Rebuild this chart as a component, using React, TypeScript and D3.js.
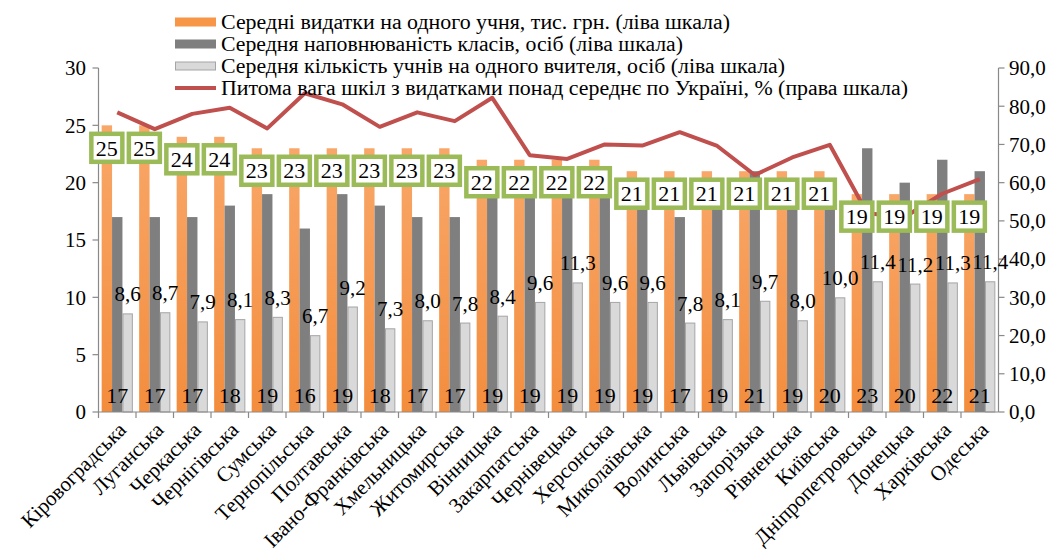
import { useEffect, useRef } from "react";
import * as d3 from "d3";

const categories = [
  "Кіровоградська", "Луганська", "Черкаська", "Чернігівська", "Сумська",
  "Тернопільська", "Полтавська", "Івано-Франківська", "Хмельницька", "Житомирська",
  "Вінницька", "Закарпатська", "Чернівецька", "Херсонська", "Миколаївська",
  "Волинська", "Львівська", "Запорізька", "Рівненська", "Київська",
  "Дніпропетровська", "Донецька", "Харківська", "Одеська"
];
const spending = [25, 25, 24, 24, 23, 23, 23, 23, 23, 23, 22, 22, 22, 22, 21, 21, 21, 21, 21, 21, 19, 19, 19, 19];
const classSize = [17, 17, 17, 18, 19, 16, 19, 18, 17, 17, 19, 19, 19, 19, 19, 17, 19, 21, 19, 20, 23, 20, 22, 21];
const perTeacher = [8.6, 8.7, 7.9, 8.1, 8.3, 6.7, 9.2, 7.3, 8.0, 7.8, 8.4, 9.6, 11.3, 9.6, 9.6, 7.8, 8.1, 9.7, 8.0, 10.0, 11.4, 11.2, 11.3, 11.4];
const shareAbove = [78.4, 74.0, 78.0, 79.6, 74.2, 83.4, 80.5, 74.6, 78.4, 76.1, 82.2, 67.2, 66.2, 70.0, 69.7, 73.2, 69.6, 62.0, 66.6, 69.9, 52.0, 51.0, 57.1, 60.9];
const leftTicks = [0, 5, 10, 15, 20, 25, 30];
const rightTicks = [0, 10, 20, 30, 40, 50, 60, 70, 80, 90];
const legendItems = [
  "Середні видатки на одного учня, тис. грн. (ліва шкала)",
  "Середня наповнюваність класів, осіб (ліва шкала)",
  "Середня кількість учнів на одного вчителя, осіб (ліва шкала)",
  "Питома вага шкіл з видатками понад середнє по Україні, % (права шкала)"
];

const FONT = "Liberation Serif, DejaVu Serif, serif";
const ORANGE = "#F79646";
const DARK = "#7F7F7F";
const LIGHT = "#D9D9D9";
const RED = "#C0504D";
const GREEN = "#9BBB59";
const AXIS = "#898989";
// measured text widths of the legend rows in the reference
const legendWidths = [509, 462, 564, 687];

export default function App() {
  const svgRef = useRef<SVGSVGElement>(null);

  useEffect(() => {
    const svg = d3.select(svgRef.current);
    svg.selectAll("*").remove();

    const left = 98.5;
    const right = 998.5;
    const bottom = 412;
    const top = 68;

    const x = d3.scaleBand().domain(categories).range([left, right]);
    const yL = d3.scaleLinear().domain([0, 30]).range([bottom, top]);
    const yR = d3.scaleLinear().domain([0, 90]).range([bottom, top]);
    const barW = 10.4;
    const cx = (c: string) => (x(c) as number) + x.bandwidth() / 2;

    const defs = svg.append("defs");
    const grad = defs.append("linearGradient").attr("id", "og").attr("x1", 0).attr("y1", 0).attr("x2", 0).attr("y2", 1);
    grad.append("stop").attr("offset", "0%").attr("stop-color", "#F9A769");
    grad.append("stop").attr("offset", "100%").attr("stop-color", "#F38D3D");

    // bars
    svg.append("g").selectAll("rect")
      .data(categories)
      .join("rect")
      .attr("x", c => cx(c) - 1.5 * barW)
      .attr("y", (c, i) => yL(spending[i]))
      .attr("width", barW)
      .attr("height", (c, i) => yL(0) - yL(spending[i]))
      .attr("fill", "url(#og)");

    svg.append("g").selectAll("rect")
      .data(categories)
      .join("rect")
      .attr("x", c => cx(c) - 0.5 * barW)
      .attr("y", (c, i) => yL(classSize[i]))
      .attr("width", barW)
      .attr("height", (c, i) => yL(0) - yL(classSize[i]))
      .attr("fill", DARK);

    svg.append("g").selectAll("rect")
      .data(categories)
      .join("rect")
      .attr("x", c => cx(c) + 0.5 * barW + 0.5)
      .attr("y", (c, i) => yL(perTeacher[i]) + 0.5)
      .attr("width", barW - 1)
      .attr("height", (c, i) => yL(0) - yL(perTeacher[i]) - 0.5)
      .attr("fill", LIGHT)
      .attr("stroke", "#A5A5A5")
      .attr("stroke-width", 1);

    // axes
    const ax = svg.append("g").attr("stroke", AXIS).attr("stroke-width", 1.2).attr("fill", "none");
    ax.append("line").attr("x1", left).attr("x2", left).attr("y1", top).attr("y2", bottom);
    ax.append("line").attr("x1", right).attr("x2", right).attr("y1", top).attr("y2", bottom);
    ax.append("line").attr("x1", left).attr("x2", right).attr("y1", bottom).attr("y2", bottom);
    ax.selectAll(".tl").data(leftTicks).join("line")
      .attr("x1", left - 6).attr("x2", left).attr("y1", d => yL(d)).attr("y2", d => yL(d));
    ax.selectAll(".tr").data(rightTicks).join("line")
      .attr("x1", right).attr("x2", right + 6).attr("y1", d => yR(d)).attr("y2", d => yR(d));
    ax.selectAll(".tx").data(categories).join("line")
      .attr("x1", c => x(c) as number).attr("x2", c => x(c) as number)
      .attr("y1", bottom).attr("y2", bottom + 6);

    const txt = svg.append("g").style("font-family", FONT);

    txt.append("g").selectAll("text").data(leftTicks).join("text")
      .attr("x", 86).attr("y", d => yL(d)).attr("dy", "0.35em")
      .attr("text-anchor", "end").attr("font-size", 21)
      .text(d => String(d));

    txt.append("g").selectAll("text").data(rightTicks).join("text")
      .attr("x", 1009).attr("y", d => yR(d)).attr("dy", "0.35em")
      .attr("font-size", 21)
      .text(d => d.toFixed(1).replace(".", ","));

    txt.append("g").selectAll("text").data(categories).join("text")
      .attr("transform", c => `translate(${cx(c) + 5},${bottom + 14}) rotate(-45)`)
      .attr("text-anchor", "end").attr("dy", "0.35em")
      .attr("font-size", 21)
      .text(c => c);

    // line
    const line = d3.line<number>()
      .x((d, i) => cx(categories[i]))
      .y(d => yR(d));
    svg.append("path").datum(shareAbove)
      .attr("d", line)
      .attr("fill", "none").attr("stroke", RED).attr("stroke-width", 4)
      .attr("stroke-linejoin", "round");

    const lab = svg.append("g").style("font-family", FONT);

    // labels: light bars (outside end)
    lab.append("g").selectAll("text").data(categories).join("text")
      .attr("x", c => cx(c) + barW)
      .attr("y", (c, i) => yL(perTeacher[i]) - 12)
      .attr("text-anchor", "middle").attr("font-size", 21)
      .text((c, i) => perTeacher[i].toFixed(1).replace(".", ","));

    // labels: dark bars (inside base)
    lab.append("g").selectAll("text").data(categories).join("text")
      .attr("x", c => cx(c))
      .attr("y", bottom - 17)
      .attr("dy", "0.35em")
      .attr("text-anchor", "middle").attr("font-size", 22)
      .text((c, i) => String(classSize[i]));

    // labels: orange bars (boxed)
    const boxes = lab.append("g").selectAll("g").data(categories).join("g")
      .attr("transform", (c, i) => `translate(${cx(c) - barW},${yL(spending[i]) + 22.5})`);
    boxes.append("rect")
      .attr("x", -15.5).attr("y", -14).attr("width", 31).attr("height", 28)
      .attr("fill", "#fff").attr("stroke", GREEN).attr("stroke-width", 4.5);
    boxes.append("text")
      .attr("dy", "0.35em").attr("text-anchor", "middle")
      .attr("font-size", 22)
      .text((c, i) => String(spending[i]));

    // legend
    const lg = svg.append("g").style("font-family", FONT).attr("font-size", 20.5);
    const rowY = [22, 44, 66, 88];
    lg.append("rect").attr("x", 175).attr("y", rowY[0] - 4.5).attr("width", 41).attr("height", 9).attr("fill", ORANGE);
    lg.append("rect").attr("x", 175).attr("y", rowY[1] - 4.5).attr("width", 41).attr("height", 9).attr("fill", DARK);
    lg.append("rect").attr("x", 175.5).attr("y", rowY[2] - 4).attr("width", 40).attr("height", 8).attr("fill", LIGHT).attr("stroke", "#A5A5A5");
    lg.append("line").attr("x1", 175).attr("x2", 216).attr("y1", rowY[3]).attr("y2", rowY[3]).attr("stroke", RED).attr("stroke-width", 4);
    lg.selectAll("text").data(legendItems).join("text")
      .attr("x", 221).attr("y", (d, i) => rowY[i]).attr("dy", "0.35em")
      .attr("textLength", (d, i) => legendWidths[i])
      .attr("lengthAdjust", "spacingAndGlyphs")
      .text(d => d);
  }, []);

  return (
    <svg
      ref={svgRef}
      width={1058}
      height={559}
      style={{ position: "absolute", left: 0, top: 0, background: "#fff" }}
    />
  );
}
